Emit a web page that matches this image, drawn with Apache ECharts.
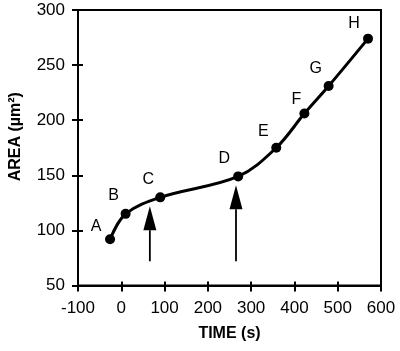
<!DOCTYPE html>
<html>
<head>
<meta charset="utf-8">
<script src="https://cdn.jsdelivr.net/npm/echarts@6/dist/echarts.min.js"></script>
<style>
html,body{margin:0;padding:0;background:#fff;}
#chart{width:400px;height:351px;}
</style>
</head>
<body>
<div id="chart"></div>
<script>
// Data
const times = [-26, 10, 90, 270, 358, 423, 479, 570];
const areas = [92, 115, 130, 149, 175, 206, 231, 274];
const pointLabels = ['A', 'B', 'C', 'D', 'E', 'F', 'G', 'H'];
const arrowTimes = [66, 265];
const arrowBase = [72, 72];
const arrowTip = [122, 141];
const xTicks = [-100, 0, 100, 200, 300, 400, 500, 600];
const yTicks = [50, 100, 150, 200, 250, 300];

// Label offsets (style only)
const labelOffsets = [[-14,-13],[-12,-18],[-12,-18],[-14,-18],[-13,-16],[-8,-14],[-13,-17],[-14,-15]];

const FONT = 'Liberation Sans, Arial, Helvetica, sans-serif';

const chart = echarts.init(document.getElementById('chart'), null, {renderer: 'canvas'});

const pointData = times.map((t, i) => ({
  value: [t, areas[i]],
  label: {
    show: true,
    formatter: pointLabels[i],
    position: 'inside',
    offset: labelOffsets[i],
    color: '#000',
    fontSize: 16,
    fontFamily: FONT
  }
}));

const arrowData = arrowTimes.map((t, i) => [t, arrowBase[i], arrowTip[i]]);

const option = {
  animation: false,
  backgroundColor: '#fff',
  grid: {
    left: 77, right: 19, top: 10, bottom: 65.5,
    show: true, borderColor: '#000', borderWidth: 2, backgroundColor: 'transparent'
  },
  xAxis: [{
    type: 'value', min: xTicks[0], max: xTicks[xTicks.length - 1], interval: 100,
    name: 'TIME (s)', nameLocation: 'middle', nameGap: 40,
    nameTextStyle: {fontFamily: FONT, fontSize: 16, fontWeight: 'bold', color: '#000'},
    axisLine: {show: true, onZero: false, lineStyle: {color: '#000', width: 2}},
    axisTick: {show: true, inside: false, length: 6, lineStyle: {color: '#000', width: 2}},
    axisLabel: {fontFamily: FONT, fontSize: 17, color: '#000', margin: 14},
    splitLine: {show: false}
  }, {
    type: 'value', min: xTicks[0], max: xTicks[xTicks.length - 1], interval: 100,
    position: 'bottom',
    axisLine: {show: false, onZero: false},
    axisTick: {show: true, inside: true, length: 4, lineStyle: {color: '#000', width: 2}},
    axisLabel: {show: false},
    splitLine: {show: false}
  }],
  yAxis: [{
    type: 'value', min: yTicks[0], max: yTicks[yTicks.length - 1], interval: 50,
    name: 'AREA (µm²)', nameLocation: 'middle', nameGap: 54,
    nameTextStyle: {fontFamily: FONT, fontSize: 16, fontWeight: 'bold', color: '#000', padding: [0, 0, 0, 22]},
    axisLine: {show: true, onZero: false, lineStyle: {color: '#000', width: 2}},
    axisTick: {show: true, inside: false, length: 6, lineStyle: {color: '#000', width: 2}},
    axisLabel: {fontFamily: FONT, fontSize: 17, color: '#000', margin: 13},
    splitLine: {show: false}
  }, {
    type: 'value', min: yTicks[0], max: yTicks[yTicks.length - 1], interval: 50,
    position: 'left',
    axisLine: {show: false, onZero: false},
    axisTick: {show: true, inside: true, length: 5, lineStyle: {color: '#000', width: 2}},
    axisLabel: {show: false},
    splitLine: {show: false}
  }],
  series: [{
    type: 'line',
    data: pointData,
    smooth: 0.35,
    symbol: 'circle',
    symbolSize: 10,
    lineStyle: {color: '#000', width: 3},
    itemStyle: {color: '#000'},
    z: 3
  }, {
    type: 'custom',
    data: arrowData,
    encode: {x: 0, y: [1, 2]},
    renderItem: function (params, api) {
      const x = api.value(0);
      const b = api.coord([x, api.value(1)]);
      const t = api.coord([x, api.value(2)]);
      const headH = 24, headW = 6.5;
      return {
        type: 'group',
        children: [{
          type: 'line',
          shape: {x1: b[0], y1: b[1], x2: t[0], y2: t[1] + headH},
          style: {stroke: '#000', lineWidth: 1.8}
        }, {
          type: 'polygon',
          shape: {points: [[t[0], t[1]], [t[0] - headW, t[1] + headH], [t[0] + headW, t[1] + headH]]},
          style: {fill: '#000'}
        }]
      };
    },
    z: 2
  }]
};

chart.setOption(option);
</script>
</body>
</html>
